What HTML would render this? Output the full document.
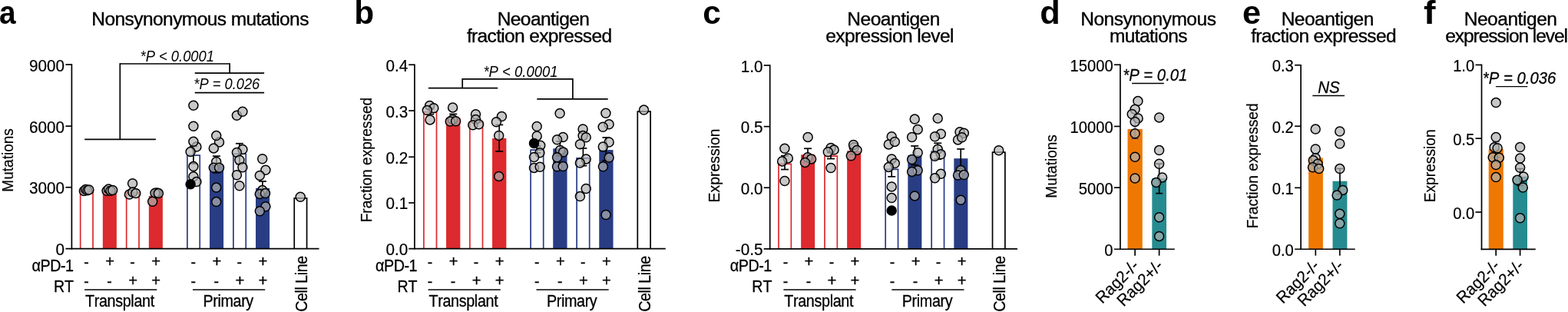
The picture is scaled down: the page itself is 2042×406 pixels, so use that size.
<!DOCTYPE html>
<html lang="en"><head><meta charset="utf-8"><title>Figure</title>
<style>
html,body{margin:0;padding:0;background:#fff;overflow:hidden}
svg{display:block}
text{font-kerning:none;font-family:"Liberation Sans",Arial,Helvetica,sans-serif;fill:#000}
</style></head>
<body>
<svg width="2042" height="406" viewBox="0 0 2042 406">
<rect width="2042" height="406" fill="#fff"/>
<text transform="translate(-0.94 31.30) scale(0.92 1)" font-size="42.2" text-anchor="start" font-weight="bold">a</text>
<text transform="translate(119.36 32.80) scale(1.02 1)" font-size="24.05" text-anchor="start" stroke="#000" stroke-width="0.35" letter-spacing="-0.567">Nonsynonymous mutations</text>
<text transform="translate(17.30 249.66) rotate(-90) scale(0.9198 1)" font-size="20.7" text-anchor="start" stroke="#000" stroke-width="0.2">Mutations</text>
<path d="M104.67 323.65V248.45H121.03V323.65" fill="#fff" stroke="#dc2a2e" stroke-width="1.7"/>
<rect x="133.82" y="247.90" width="18.05" height="75.75" fill="#dc2a2e"/>
<path d="M164.67 323.65V250.85H181.03V323.65" fill="#fff" stroke="#dc2a2e" stroke-width="1.7"/>
<rect x="193.82" y="255.00" width="18.05" height="68.65" fill="#dc2a2e"/>
<path d="M243.88 323.65V202.05H260.22V323.65" fill="#fff" stroke="#283d83" stroke-width="1.7"/>
<rect x="273.02" y="213.90" width="18.05" height="109.75" fill="#283d83"/>
<path d="M303.88 323.65V200.25H320.22V323.65" fill="#fff" stroke="#283d83" stroke-width="1.7"/>
<rect x="333.02" y="244.80" width="18.05" height="78.85" fill="#283d83"/>
<path d="M383.23 323.65V257.95H399.57V323.65" fill="#fff" stroke="#000" stroke-width="1.7"/>
<line x1="251.90" y1="190.35" x2="251.90" y2="212.95" stroke="#000" stroke-width="1.7" stroke-linecap="butt"/>
<line x1="246.90" y1="190.35" x2="256.90" y2="190.35" stroke="#000" stroke-width="1.7" stroke-linecap="butt"/>
<line x1="246.90" y1="212.95" x2="256.90" y2="212.95" stroke="#000" stroke-width="1.7" stroke-linecap="butt"/>
<line x1="281.90" y1="203.15" x2="281.90" y2="224.75" stroke="#000" stroke-width="1.7" stroke-linecap="butt"/>
<line x1="276.90" y1="203.15" x2="286.90" y2="203.15" stroke="#000" stroke-width="1.7" stroke-linecap="butt"/>
<line x1="276.90" y1="224.75" x2="286.90" y2="224.75" stroke="#000" stroke-width="1.7" stroke-linecap="butt"/>
<line x1="311.90" y1="186.75" x2="311.90" y2="213.35" stroke="#000" stroke-width="1.7" stroke-linecap="butt"/>
<line x1="306.90" y1="186.75" x2="316.90" y2="186.75" stroke="#000" stroke-width="1.7" stroke-linecap="butt"/>
<line x1="306.90" y1="213.35" x2="316.90" y2="213.35" stroke="#000" stroke-width="1.7" stroke-linecap="butt"/>
<line x1="341.90" y1="235.95" x2="341.90" y2="254.65" stroke="#000" stroke-width="1.7" stroke-linecap="butt"/>
<line x1="336.90" y1="235.95" x2="346.90" y2="235.95" stroke="#000" stroke-width="1.7" stroke-linecap="butt"/>
<line x1="336.90" y1="254.65" x2="346.90" y2="254.65" stroke="#000" stroke-width="1.7" stroke-linecap="butt"/>
<circle cx="109.40" cy="248.40" r="6.0" fill="rgb(176,176,176)" fill-opacity="0.7" stroke="#000" stroke-width="1.5"/>
<circle cx="111.60" cy="246.60" r="6.0" fill="rgb(176,176,176)" fill-opacity="0.7" stroke="#000" stroke-width="1.5"/>
<circle cx="113.90" cy="247.70" r="6.0" fill="rgb(176,176,176)" fill-opacity="0.7" stroke="#000" stroke-width="1.5"/>
<circle cx="115.90" cy="247.00" r="6.0" fill="rgb(176,176,176)" fill-opacity="0.7" stroke="#000" stroke-width="1.5"/>
<circle cx="139.10" cy="248.20" r="6.0" fill="rgb(176,176,176)" fill-opacity="0.7" stroke="#000" stroke-width="1.5"/>
<circle cx="141.50" cy="246.00" r="6.0" fill="rgb(176,176,176)" fill-opacity="0.7" stroke="#000" stroke-width="1.5"/>
<circle cx="144.00" cy="248.20" r="6.0" fill="rgb(176,176,176)" fill-opacity="0.7" stroke="#000" stroke-width="1.5"/>
<circle cx="146.70" cy="247.60" r="6.0" fill="rgb(176,176,176)" fill-opacity="0.7" stroke="#000" stroke-width="1.5"/>
<circle cx="172.60" cy="238.80" r="6.0" fill="rgb(176,176,176)" fill-opacity="0.7" stroke="#000" stroke-width="1.5"/>
<circle cx="168.40" cy="253.10" r="6.0" fill="rgb(176,176,176)" fill-opacity="0.7" stroke="#000" stroke-width="1.5"/>
<circle cx="172.80" cy="250.10" r="6.0" fill="rgb(176,176,176)" fill-opacity="0.7" stroke="#000" stroke-width="1.5"/>
<circle cx="176.80" cy="251.60" r="6.0" fill="rgb(176,176,176)" fill-opacity="0.7" stroke="#000" stroke-width="1.5"/>
<circle cx="204.30" cy="251.00" r="6.0" fill="rgb(176,176,176)" fill-opacity="0.7" stroke="#000" stroke-width="1.5"/>
<circle cx="202.00" cy="251.30" r="6.0" fill="rgb(176,176,176)" fill-opacity="0.7" stroke="#000" stroke-width="1.5"/>
<circle cx="206.40" cy="251.60" r="6.0" fill="rgb(176,176,176)" fill-opacity="0.7" stroke="#000" stroke-width="1.5"/>
<circle cx="198.70" cy="262.20" r="6.0" fill="rgb(176,176,176)" fill-opacity="0.7" stroke="#000" stroke-width="1.5"/>
<circle cx="251.90" cy="137.20" r="6.0" fill="rgb(176,176,176)" fill-opacity="0.7" stroke="#000" stroke-width="1.5"/>
<circle cx="251.90" cy="164.30" r="6.0" fill="rgb(176,176,176)" fill-opacity="0.7" stroke="#000" stroke-width="1.5"/>
<circle cx="255.90" cy="191.00" r="6.0" fill="rgb(176,176,176)" fill-opacity="0.7" stroke="#000" stroke-width="1.5"/>
<circle cx="251.90" cy="184.30" r="6.0" fill="rgb(176,176,176)" fill-opacity="0.7" stroke="#000" stroke-width="1.5"/>
<circle cx="248.10" cy="197.60" r="6.0" fill="rgb(176,176,176)" fill-opacity="0.7" stroke="#000" stroke-width="1.5"/>
<circle cx="251.90" cy="216.60" r="6.0" fill="rgb(176,176,176)" fill-opacity="0.7" stroke="#000" stroke-width="1.5"/>
<circle cx="251.90" cy="229.80" r="6.0" fill="rgb(176,176,176)" fill-opacity="0.7" stroke="#000" stroke-width="1.5"/>
<circle cx="255.90" cy="236.60" r="6.0" fill="rgb(176,176,176)" fill-opacity="0.7" stroke="#000" stroke-width="1.5"/>
<circle cx="248.10" cy="239.80" r="6.0" fill="#000" stroke="#000" stroke-width="1.5"/>
<circle cx="285.50" cy="185.00" r="6.0" fill="rgb(176,176,176)" fill-opacity="0.7" stroke="#000" stroke-width="1.5"/>
<circle cx="281.70" cy="176.60" r="6.0" fill="rgb(176,176,176)" fill-opacity="0.7" stroke="#000" stroke-width="1.5"/>
<circle cx="278.30" cy="192.90" r="6.0" fill="rgb(176,176,176)" fill-opacity="0.7" stroke="#000" stroke-width="1.5"/>
<circle cx="281.70" cy="210.50" r="6.0" fill="rgb(176,176,176)" fill-opacity="0.7" stroke="#000" stroke-width="1.5"/>
<circle cx="278.30" cy="218.30" r="6.0" fill="rgb(176,176,176)" fill-opacity="0.7" stroke="#000" stroke-width="1.5"/>
<circle cx="285.50" cy="218.30" r="6.0" fill="rgb(176,176,176)" fill-opacity="0.7" stroke="#000" stroke-width="1.5"/>
<circle cx="281.70" cy="244.10" r="6.0" fill="rgb(176,176,176)" fill-opacity="0.7" stroke="#000" stroke-width="1.5"/>
<circle cx="281.70" cy="262.60" r="6.0" fill="rgb(176,176,176)" fill-opacity="0.7" stroke="#000" stroke-width="1.5"/>
<circle cx="308.40" cy="150.20" r="6.0" fill="rgb(176,176,176)" fill-opacity="0.7" stroke="#000" stroke-width="1.5"/>
<circle cx="315.90" cy="145.30" r="6.0" fill="rgb(176,176,176)" fill-opacity="0.7" stroke="#000" stroke-width="1.5"/>
<circle cx="315.90" cy="194.50" r="6.0" fill="rgb(176,176,176)" fill-opacity="0.7" stroke="#000" stroke-width="1.5"/>
<circle cx="308.40" cy="198.40" r="6.0" fill="rgb(176,176,176)" fill-opacity="0.7" stroke="#000" stroke-width="1.5"/>
<circle cx="311.90" cy="208.30" r="6.0" fill="rgb(176,176,176)" fill-opacity="0.7" stroke="#000" stroke-width="1.5"/>
<circle cx="315.90" cy="217.80" r="6.0" fill="rgb(176,176,176)" fill-opacity="0.7" stroke="#000" stroke-width="1.5"/>
<circle cx="308.40" cy="227.80" r="6.0" fill="rgb(176,176,176)" fill-opacity="0.7" stroke="#000" stroke-width="1.5"/>
<circle cx="311.90" cy="241.80" r="6.0" fill="rgb(176,176,176)" fill-opacity="0.7" stroke="#000" stroke-width="1.5"/>
<circle cx="341.70" cy="206.70" r="6.0" fill="rgb(176,176,176)" fill-opacity="0.7" stroke="#000" stroke-width="1.5"/>
<circle cx="345.90" cy="221.30" r="6.0" fill="rgb(176,176,176)" fill-opacity="0.7" stroke="#000" stroke-width="1.5"/>
<circle cx="338.30" cy="228.40" r="6.0" fill="rgb(176,176,176)" fill-opacity="0.7" stroke="#000" stroke-width="1.5"/>
<circle cx="341.70" cy="247.60" r="6.0" fill="rgb(176,176,176)" fill-opacity="0.7" stroke="#000" stroke-width="1.5"/>
<circle cx="338.30" cy="252.40" r="6.0" fill="rgb(176,176,176)" fill-opacity="0.7" stroke="#000" stroke-width="1.5"/>
<circle cx="345.50" cy="251.60" r="6.0" fill="rgb(176,176,176)" fill-opacity="0.7" stroke="#000" stroke-width="1.5"/>
<circle cx="345.90" cy="268.80" r="6.0" fill="rgb(176,176,176)" fill-opacity="0.7" stroke="#000" stroke-width="1.5"/>
<circle cx="338.30" cy="274.80" r="6.0" fill="rgb(176,176,176)" fill-opacity="0.7" stroke="#000" stroke-width="1.5"/>
<circle cx="391.20" cy="256.20" r="6.0" fill="rgb(176,176,176)" fill-opacity="0.7" stroke="#000" stroke-width="1.5"/>
<line x1="93.40" y1="83.20" x2="93.40" y2="324.50" stroke="#000" stroke-width="1.7" stroke-linecap="butt"/>
<line x1="85.40" y1="84.05" x2="93.40" y2="84.05" stroke="#000" stroke-width="1.7" stroke-linecap="butt"/>
<text transform="translate(84.10 92.55) scale(1 1.09)" font-size="20.7" text-anchor="end" stroke="#000" stroke-width="0.2">9000</text>
<line x1="85.40" y1="164.15" x2="93.40" y2="164.15" stroke="#000" stroke-width="1.7" stroke-linecap="butt"/>
<text transform="translate(84.10 172.65) scale(1 1.09)" font-size="20.7" text-anchor="end" stroke="#000" stroke-width="0.2">6000</text>
<line x1="85.40" y1="243.75" x2="93.40" y2="243.75" stroke="#000" stroke-width="1.7" stroke-linecap="butt"/>
<text transform="translate(84.10 252.25) scale(1 1.09)" font-size="20.7" text-anchor="end" stroke="#000" stroke-width="0.2">3000</text>
<text transform="translate(84.10 332.15) scale(1 1.09)" font-size="20.7" text-anchor="end" stroke="#000" stroke-width="0.2">0</text>
<line x1="85.40" y1="323.65" x2="415.50" y2="323.65" stroke="#000" stroke-width="1.7" stroke-linecap="butt"/>
<text transform="translate(41.52 353.40) scale(0.915 1)" font-size="21.6" text-anchor="start" stroke="#000" stroke-width="0.3" letter-spacing="-0.535">αPD-1</text>
<text transform="translate(69.94 379.90) scale(0.9086 1)" font-size="21.6" text-anchor="start" stroke="#000" stroke-width="0.3">RT</text>
<text transform="translate(112.60 347.80)" font-size="19.5" text-anchor="middle" stroke="#000" stroke-width="0.3">-</text>
<text transform="translate(112.60 373.40)" font-size="19.5" text-anchor="middle" stroke="#000" stroke-width="0.3">-</text>
<text transform="translate(143.10 346.70)" font-size="20.2" text-anchor="middle" stroke="#000" stroke-width="0.3">+</text>
<text transform="translate(142.60 373.40)" font-size="19.5" text-anchor="middle" stroke="#000" stroke-width="0.3">-</text>
<text transform="translate(172.60 347.80)" font-size="19.5" text-anchor="middle" stroke="#000" stroke-width="0.3">-</text>
<text transform="translate(173.10 372.30)" font-size="20.2" text-anchor="middle" stroke="#000" stroke-width="0.3">+</text>
<text transform="translate(203.10 346.70)" font-size="20.2" text-anchor="middle" stroke="#000" stroke-width="0.3">+</text>
<text transform="translate(203.10 372.30)" font-size="20.2" text-anchor="middle" stroke="#000" stroke-width="0.3">+</text>
<text transform="translate(251.80 347.80)" font-size="19.5" text-anchor="middle" stroke="#000" stroke-width="0.3">-</text>
<text transform="translate(251.80 373.40)" font-size="19.5" text-anchor="middle" stroke="#000" stroke-width="0.3">-</text>
<text transform="translate(282.30 346.70)" font-size="20.2" text-anchor="middle" stroke="#000" stroke-width="0.3">+</text>
<text transform="translate(281.80 373.40)" font-size="19.5" text-anchor="middle" stroke="#000" stroke-width="0.3">-</text>
<text transform="translate(311.80 347.80)" font-size="19.5" text-anchor="middle" stroke="#000" stroke-width="0.3">-</text>
<text transform="translate(312.30 372.30)" font-size="20.2" text-anchor="middle" stroke="#000" stroke-width="0.3">+</text>
<text transform="translate(342.30 346.70)" font-size="20.2" text-anchor="middle" stroke="#000" stroke-width="0.3">+</text>
<text transform="translate(342.30 372.30)" font-size="20.2" text-anchor="middle" stroke="#000" stroke-width="0.3">+</text>
<line x1="110.10" y1="377.00" x2="204.30" y2="377.00" stroke="#000" stroke-width="1.6" stroke-linecap="butt"/>
<line x1="251.00" y1="377.00" x2="345.20" y2="377.00" stroke="#000" stroke-width="1.6" stroke-linecap="butt"/>
<text transform="translate(111.01 398.60) scale(0.915 1)" font-size="21.6" text-anchor="start" stroke="#000" stroke-width="0.3" letter-spacing="-0.387">Transplant</text>
<text transform="translate(264.53 398.60) scale(0.915 1)" font-size="21.6" text-anchor="start" stroke="#000" stroke-width="0.3" letter-spacing="-0.421">Primary</text>
<text transform="translate(399.70 405.85) rotate(-90) scale(0.915 1)" font-size="21.6" text-anchor="start" stroke="#000" stroke-width="0.3" letter-spacing="-0.508">Cell Line</text>
<line x1="110.20" y1="181.30" x2="202.90" y2="181.30" stroke="#000" stroke-width="1.7" stroke-linecap="butt"/>
<line x1="156.30" y1="82.15" x2="156.30" y2="181.30" stroke="#000" stroke-width="1.7" stroke-linecap="butt"/>
<line x1="156.30" y1="83.00" x2="299.10" y2="83.00" stroke="#000" stroke-width="1.7" stroke-linecap="butt"/>
<line x1="299.10" y1="82.15" x2="299.10" y2="95.20" stroke="#000" stroke-width="1.7" stroke-linecap="butt"/>
<line x1="253.70" y1="95.20" x2="344.10" y2="95.20" stroke="#000" stroke-width="1.7" stroke-linecap="butt"/>
<line x1="253.70" y1="120.60" x2="344.10" y2="120.60" stroke="#000" stroke-width="1.7" stroke-linecap="butt"/>
<text transform="translate(182.52 79.90) scale(0.947 1)" font-size="19.4" text-anchor="start" font-style="italic">*P &lt; 0.0001</text>
<text transform="translate(252.33 116.40) scale(0.9432 1)" font-size="19.4" text-anchor="start" font-style="italic">*P = 0.026</text>
<text transform="translate(461.20 31.30) scale(1.006 1)" font-size="42.2" text-anchor="start" font-weight="bold">b</text>
<text transform="translate(647.66 32.50) scale(1.02 1)" font-size="24.05" text-anchor="start" stroke="#000" stroke-width="0.35" letter-spacing="-0.558">Neoantigen</text>
<text transform="translate(607.93 55.20) scale(1.02 1)" font-size="24.05" text-anchor="start" stroke="#000" stroke-width="0.35" letter-spacing="-0.649">fraction expressed</text>
<text transform="translate(483.90 289.37) rotate(-90) scale(0.9243 1)" font-size="20.7" text-anchor="start" stroke="#000" stroke-width="0.2">Fraction expressed</text>
<path d="M551.90 323.65V145.75H568.50V323.65" fill="#fff" stroke="#dc2a2e" stroke-width="1.7"/>
<rect x="581.05" y="153.50" width="18.30" height="170.15" fill="#dc2a2e"/>
<path d="M611.90 323.65V158.85H628.50V323.65" fill="#fff" stroke="#dc2a2e" stroke-width="1.7"/>
<rect x="641.05" y="180.00" width="18.30" height="143.65" fill="#dc2a2e"/>
<path d="M691.10 323.65V195.15H707.70V323.65" fill="#fff" stroke="#283d83" stroke-width="1.7"/>
<rect x="720.25" y="193.30" width="18.30" height="130.35" fill="#283d83"/>
<path d="M751.10 323.65V205.95H767.70V323.65" fill="#fff" stroke="#283d83" stroke-width="1.7"/>
<rect x="780.25" y="195.10" width="18.30" height="128.55" fill="#283d83"/>
<path d="M830.30 323.65V145.15H847.10V323.65" fill="#fff" stroke="#000" stroke-width="1.7"/>
<line x1="560.20" y1="141.35" x2="560.20" y2="148.65" stroke="#000" stroke-width="1.7" stroke-linecap="butt"/>
<line x1="555.20" y1="141.35" x2="565.20" y2="141.35" stroke="#000" stroke-width="1.7" stroke-linecap="butt"/>
<line x1="555.20" y1="148.65" x2="565.20" y2="148.65" stroke="#000" stroke-width="1.7" stroke-linecap="butt"/>
<line x1="590.20" y1="148.45" x2="590.20" y2="159.35" stroke="#000" stroke-width="1.7" stroke-linecap="butt"/>
<line x1="585.20" y1="148.45" x2="595.20" y2="148.45" stroke="#000" stroke-width="1.7" stroke-linecap="butt"/>
<line x1="585.20" y1="159.35" x2="595.20" y2="159.35" stroke="#000" stroke-width="1.7" stroke-linecap="butt"/>
<line x1="650.20" y1="162.45" x2="650.20" y2="196.95" stroke="#000" stroke-width="1.7" stroke-linecap="butt"/>
<line x1="645.20" y1="162.45" x2="655.20" y2="162.45" stroke="#000" stroke-width="1.7" stroke-linecap="butt"/>
<line x1="645.20" y1="196.95" x2="655.20" y2="196.95" stroke="#000" stroke-width="1.7" stroke-linecap="butt"/>
<line x1="699.40" y1="190.05" x2="699.40" y2="198.95" stroke="#000" stroke-width="1.7" stroke-linecap="butt"/>
<line x1="694.40" y1="190.05" x2="704.40" y2="190.05" stroke="#000" stroke-width="1.7" stroke-linecap="butt"/>
<line x1="694.40" y1="198.95" x2="704.40" y2="198.95" stroke="#000" stroke-width="1.7" stroke-linecap="butt"/>
<line x1="729.40" y1="184.15" x2="729.40" y2="202.85" stroke="#000" stroke-width="1.7" stroke-linecap="butt"/>
<line x1="724.40" y1="184.15" x2="734.40" y2="184.15" stroke="#000" stroke-width="1.7" stroke-linecap="butt"/>
<line x1="724.40" y1="202.85" x2="734.40" y2="202.85" stroke="#000" stroke-width="1.7" stroke-linecap="butt"/>
<line x1="759.40" y1="192.95" x2="759.40" y2="215.65" stroke="#000" stroke-width="1.7" stroke-linecap="butt"/>
<line x1="754.40" y1="192.95" x2="764.40" y2="192.95" stroke="#000" stroke-width="1.7" stroke-linecap="butt"/>
<line x1="754.40" y1="215.65" x2="764.40" y2="215.65" stroke="#000" stroke-width="1.7" stroke-linecap="butt"/>
<line x1="789.40" y1="178.95" x2="789.40" y2="208.95" stroke="#000" stroke-width="1.7" stroke-linecap="butt"/>
<line x1="784.40" y1="178.95" x2="794.40" y2="178.95" stroke="#000" stroke-width="1.7" stroke-linecap="butt"/>
<line x1="784.40" y1="208.95" x2="794.40" y2="208.95" stroke="#000" stroke-width="1.7" stroke-linecap="butt"/>
<circle cx="559.60" cy="137.40" r="6.0" fill="rgb(176,176,176)" fill-opacity="0.7" stroke="#000" stroke-width="1.5"/>
<circle cx="564.80" cy="140.70" r="6.0" fill="rgb(176,176,176)" fill-opacity="0.7" stroke="#000" stroke-width="1.5"/>
<circle cx="556.30" cy="143.60" r="6.0" fill="rgb(176,176,176)" fill-opacity="0.7" stroke="#000" stroke-width="1.5"/>
<circle cx="560.00" cy="155.90" r="6.0" fill="rgb(176,176,176)" fill-opacity="0.7" stroke="#000" stroke-width="1.5"/>
<circle cx="589.60" cy="139.90" r="6.0" fill="rgb(176,176,176)" fill-opacity="0.7" stroke="#000" stroke-width="1.5"/>
<circle cx="589.60" cy="155.50" r="6.0" fill="rgb(176,176,176)" fill-opacity="0.7" stroke="#000" stroke-width="1.5"/>
<circle cx="586.20" cy="158.10" r="6.0" fill="rgb(176,176,176)" fill-opacity="0.7" stroke="#000" stroke-width="1.5"/>
<circle cx="593.60" cy="157.70" r="6.0" fill="rgb(176,176,176)" fill-opacity="0.7" stroke="#000" stroke-width="1.5"/>
<circle cx="619.50" cy="148.80" r="6.0" fill="rgb(176,176,176)" fill-opacity="0.7" stroke="#000" stroke-width="1.5"/>
<circle cx="619.50" cy="155.50" r="6.0" fill="rgb(176,176,176)" fill-opacity="0.7" stroke="#000" stroke-width="1.5"/>
<circle cx="615.80" cy="162.80" r="6.0" fill="rgb(176,176,176)" fill-opacity="0.7" stroke="#000" stroke-width="1.5"/>
<circle cx="623.60" cy="161.80" r="6.0" fill="rgb(176,176,176)" fill-opacity="0.7" stroke="#000" stroke-width="1.5"/>
<circle cx="653.40" cy="151.50" r="6.0" fill="rgb(176,176,176)" fill-opacity="0.7" stroke="#000" stroke-width="1.5"/>
<circle cx="646.40" cy="158.70" r="6.0" fill="rgb(176,176,176)" fill-opacity="0.7" stroke="#000" stroke-width="1.5"/>
<circle cx="649.70" cy="176.40" r="6.0" fill="rgb(176,176,176)" fill-opacity="0.7" stroke="#000" stroke-width="1.5"/>
<circle cx="649.70" cy="229.40" r="6.0" fill="rgb(176,176,176)" fill-opacity="0.7" stroke="#000" stroke-width="1.5"/>
<circle cx="699.20" cy="164.50" r="6.0" fill="rgb(176,176,176)" fill-opacity="0.7" stroke="#000" stroke-width="1.5"/>
<circle cx="699.20" cy="177.00" r="6.0" fill="rgb(176,176,176)" fill-opacity="0.7" stroke="#000" stroke-width="1.5"/>
<circle cx="703.70" cy="189.20" r="6.0" fill="rgb(176,176,176)" fill-opacity="0.7" stroke="#000" stroke-width="1.5"/>
<circle cx="695.50" cy="186.40" r="6.0" fill="#000" stroke="#000" stroke-width="1.5"/>
<circle cx="702.90" cy="198.80" r="6.0" fill="rgb(176,176,176)" fill-opacity="0.7" stroke="#000" stroke-width="1.5"/>
<circle cx="695.50" cy="204.50" r="6.0" fill="rgb(176,176,176)" fill-opacity="0.7" stroke="#000" stroke-width="1.5"/>
<circle cx="695.50" cy="218.40" r="6.0" fill="rgb(176,176,176)" fill-opacity="0.7" stroke="#000" stroke-width="1.5"/>
<circle cx="703.20" cy="217.20" r="6.0" fill="rgb(176,176,176)" fill-opacity="0.7" stroke="#000" stroke-width="1.5"/>
<circle cx="729.10" cy="147.60" r="6.0" fill="rgb(176,176,176)" fill-opacity="0.7" stroke="#000" stroke-width="1.5"/>
<circle cx="733.20" cy="178.50" r="6.0" fill="rgb(176,176,176)" fill-opacity="0.7" stroke="#000" stroke-width="1.5"/>
<circle cx="725.50" cy="181.80" r="6.0" fill="rgb(176,176,176)" fill-opacity="0.7" stroke="#000" stroke-width="1.5"/>
<circle cx="729.50" cy="195.50" r="6.0" fill="rgb(176,176,176)" fill-opacity="0.7" stroke="#000" stroke-width="1.5"/>
<circle cx="733.50" cy="198.00" r="6.0" fill="rgb(176,176,176)" fill-opacity="0.7" stroke="#000" stroke-width="1.5"/>
<circle cx="725.50" cy="204.80" r="6.0" fill="rgb(176,176,176)" fill-opacity="0.7" stroke="#000" stroke-width="1.5"/>
<circle cx="725.50" cy="216.80" r="6.0" fill="rgb(176,176,176)" fill-opacity="0.7" stroke="#000" stroke-width="1.5"/>
<circle cx="733.20" cy="216.60" r="6.0" fill="rgb(176,176,176)" fill-opacity="0.7" stroke="#000" stroke-width="1.5"/>
<circle cx="759.10" cy="168.00" r="6.0" fill="rgb(176,176,176)" fill-opacity="0.7" stroke="#000" stroke-width="1.5"/>
<circle cx="759.10" cy="176.60" r="6.0" fill="rgb(176,176,176)" fill-opacity="0.7" stroke="#000" stroke-width="1.5"/>
<circle cx="763.20" cy="178.80" r="6.0" fill="rgb(176,176,176)" fill-opacity="0.7" stroke="#000" stroke-width="1.5"/>
<circle cx="755.40" cy="187.80" r="6.0" fill="rgb(176,176,176)" fill-opacity="0.7" stroke="#000" stroke-width="1.5"/>
<circle cx="763.20" cy="206.90" r="6.0" fill="rgb(176,176,176)" fill-opacity="0.7" stroke="#000" stroke-width="1.5"/>
<circle cx="755.40" cy="212.10" r="6.0" fill="rgb(176,176,176)" fill-opacity="0.7" stroke="#000" stroke-width="1.5"/>
<circle cx="763.20" cy="245.50" r="6.0" fill="rgb(176,176,176)" fill-opacity="0.7" stroke="#000" stroke-width="1.5"/>
<circle cx="755.40" cy="255.60" r="6.0" fill="rgb(176,176,176)" fill-opacity="0.7" stroke="#000" stroke-width="1.5"/>
<circle cx="788.90" cy="147.30" r="6.0" fill="rgb(176,176,176)" fill-opacity="0.7" stroke="#000" stroke-width="1.5"/>
<circle cx="793.10" cy="161.80" r="6.0" fill="rgb(176,176,176)" fill-opacity="0.7" stroke="#000" stroke-width="1.5"/>
<circle cx="785.20" cy="165.20" r="6.0" fill="rgb(176,176,176)" fill-opacity="0.7" stroke="#000" stroke-width="1.5"/>
<circle cx="793.10" cy="185.00" r="6.0" fill="rgb(176,176,176)" fill-opacity="0.7" stroke="#000" stroke-width="1.5"/>
<circle cx="785.30" cy="191.00" r="6.0" fill="rgb(176,176,176)" fill-opacity="0.7" stroke="#000" stroke-width="1.5"/>
<circle cx="793.10" cy="205.10" r="6.0" fill="rgb(176,176,176)" fill-opacity="0.7" stroke="#000" stroke-width="1.5"/>
<circle cx="785.40" cy="216.70" r="6.0" fill="rgb(176,176,176)" fill-opacity="0.7" stroke="#000" stroke-width="1.5"/>
<circle cx="789.10" cy="279.50" r="6.0" fill="rgb(176,176,176)" fill-opacity="0.7" stroke="#000" stroke-width="1.5"/>
<circle cx="838.50" cy="143.10" r="6.0" fill="rgb(176,176,176)" fill-opacity="0.7" stroke="#000" stroke-width="1.5"/>
<line x1="539.90" y1="83.40" x2="539.90" y2="324.50" stroke="#000" stroke-width="1.7" stroke-linecap="butt"/>
<line x1="532.20" y1="84.25" x2="539.90" y2="84.25" stroke="#000" stroke-width="1.7" stroke-linecap="butt"/>
<text transform="translate(531.30 92.75) scale(1 1.09)" font-size="20.7" text-anchor="end" stroke="#000" stroke-width="0.2">0.4</text>
<line x1="532.20" y1="144.05" x2="539.90" y2="144.05" stroke="#000" stroke-width="1.7" stroke-linecap="butt"/>
<text transform="translate(531.30 152.55) scale(1 1.09)" font-size="20.7" text-anchor="end" stroke="#000" stroke-width="0.2">0.3</text>
<line x1="532.20" y1="204.25" x2="539.90" y2="204.25" stroke="#000" stroke-width="1.7" stroke-linecap="butt"/>
<text transform="translate(531.30 212.75) scale(1 1.09)" font-size="20.7" text-anchor="end" stroke="#000" stroke-width="0.2">0.2</text>
<line x1="532.20" y1="263.95" x2="539.90" y2="263.95" stroke="#000" stroke-width="1.7" stroke-linecap="butt"/>
<text transform="translate(531.30 272.45) scale(1 1.09)" font-size="20.7" text-anchor="end" stroke="#000" stroke-width="0.2">0.1</text>
<text transform="translate(531.30 332.15) scale(1 1.09)" font-size="20.7" text-anchor="end" stroke="#000" stroke-width="0.2">0.0</text>
<line x1="532.20" y1="323.65" x2="866.80" y2="323.65" stroke="#000" stroke-width="1.7" stroke-linecap="butt"/>
<text transform="translate(489.02 353.40) scale(0.915 1)" font-size="21.6" text-anchor="start" stroke="#000" stroke-width="0.3" letter-spacing="-0.535">αPD-1</text>
<text transform="translate(517.44 379.90) scale(0.9086 1)" font-size="21.6" text-anchor="start" stroke="#000" stroke-width="0.3">RT</text>
<text transform="translate(560.10 347.80)" font-size="19.5" text-anchor="middle" stroke="#000" stroke-width="0.3">-</text>
<text transform="translate(560.10 373.40)" font-size="19.5" text-anchor="middle" stroke="#000" stroke-width="0.3">-</text>
<text transform="translate(590.60 346.70)" font-size="20.2" text-anchor="middle" stroke="#000" stroke-width="0.3">+</text>
<text transform="translate(590.10 373.40)" font-size="19.5" text-anchor="middle" stroke="#000" stroke-width="0.3">-</text>
<text transform="translate(620.10 347.80)" font-size="19.5" text-anchor="middle" stroke="#000" stroke-width="0.3">-</text>
<text transform="translate(620.60 372.30)" font-size="20.2" text-anchor="middle" stroke="#000" stroke-width="0.3">+</text>
<text transform="translate(650.60 346.70)" font-size="20.2" text-anchor="middle" stroke="#000" stroke-width="0.3">+</text>
<text transform="translate(650.60 372.30)" font-size="20.2" text-anchor="middle" stroke="#000" stroke-width="0.3">+</text>
<text transform="translate(699.30 347.80)" font-size="19.5" text-anchor="middle" stroke="#000" stroke-width="0.3">-</text>
<text transform="translate(699.30 373.40)" font-size="19.5" text-anchor="middle" stroke="#000" stroke-width="0.3">-</text>
<text transform="translate(729.80 346.70)" font-size="20.2" text-anchor="middle" stroke="#000" stroke-width="0.3">+</text>
<text transform="translate(729.30 373.40)" font-size="19.5" text-anchor="middle" stroke="#000" stroke-width="0.3">-</text>
<text transform="translate(759.30 347.80)" font-size="19.5" text-anchor="middle" stroke="#000" stroke-width="0.3">-</text>
<text transform="translate(759.80 372.30)" font-size="20.2" text-anchor="middle" stroke="#000" stroke-width="0.3">+</text>
<text transform="translate(789.80 346.70)" font-size="20.2" text-anchor="middle" stroke="#000" stroke-width="0.3">+</text>
<text transform="translate(789.80 372.30)" font-size="20.2" text-anchor="middle" stroke="#000" stroke-width="0.3">+</text>
<line x1="557.60" y1="377.00" x2="651.80" y2="377.00" stroke="#000" stroke-width="1.6" stroke-linecap="butt"/>
<line x1="698.50" y1="377.00" x2="792.70" y2="377.00" stroke="#000" stroke-width="1.6" stroke-linecap="butt"/>
<text transform="translate(558.51 398.60) scale(0.915 1)" font-size="21.6" text-anchor="start" stroke="#000" stroke-width="0.3" letter-spacing="-0.387">Transplant</text>
<text transform="translate(712.03 398.60) scale(0.915 1)" font-size="21.6" text-anchor="start" stroke="#000" stroke-width="0.3" letter-spacing="-0.421">Primary</text>
<text transform="translate(847.20 405.85) rotate(-90) scale(0.915 1)" font-size="21.6" text-anchor="start" stroke="#000" stroke-width="0.3" letter-spacing="-0.508">Cell Line</text>
<line x1="557.90" y1="114.70" x2="648.30" y2="114.70" stroke="#000" stroke-width="1.7" stroke-linecap="butt"/>
<line x1="602.20" y1="102.05" x2="602.20" y2="114.70" stroke="#000" stroke-width="1.7" stroke-linecap="butt"/>
<line x1="602.20" y1="102.90" x2="745.90" y2="102.90" stroke="#000" stroke-width="1.7" stroke-linecap="butt"/>
<line x1="745.90" y1="102.05" x2="745.90" y2="128.95" stroke="#000" stroke-width="1.7" stroke-linecap="butt"/>
<line x1="699.30" y1="128.95" x2="791.70" y2="128.95" stroke="#000" stroke-width="1.7" stroke-linecap="butt"/>
<text transform="translate(629.42 100.00) scale(0.954 1)" font-size="19.4" text-anchor="start" font-style="italic">*P &lt; 0.0001</text>
<text transform="translate(915.34 31.30) scale(1.006 1)" font-size="42.2" text-anchor="start" font-weight="bold">c</text>
<text transform="translate(1103.36 32.50) scale(1.02 1)" font-size="24.05" text-anchor="start" stroke="#000" stroke-width="0.35" letter-spacing="-0.482">Neoantigen</text>
<text transform="translate(1075.23 55.20) scale(1.02 1)" font-size="24.05" text-anchor="start" stroke="#000" stroke-width="0.35" letter-spacing="-0.566">expression level</text>
<text transform="translate(937.20 263.39) rotate(-90) scale(0.937 1)" font-size="20.7" text-anchor="start" stroke="#000" stroke-width="0.2">Expression</text>
<path d="M1013.98 323.95V213.35H1030.33V323.95" fill="#fff" stroke="#dc2a2e" stroke-width="1.7"/>
<rect x="1043.12" y="201.30" width="18.05" height="122.65" fill="#dc2a2e"/>
<path d="M1073.97 323.95V203.05H1090.33V323.95" fill="#fff" stroke="#dc2a2e" stroke-width="1.7"/>
<rect x="1103.12" y="196.30" width="18.05" height="127.65" fill="#dc2a2e"/>
<path d="M1153.17 323.95V220.45H1169.53V323.95" fill="#fff" stroke="#283d83" stroke-width="1.7"/>
<rect x="1182.33" y="202.00" width="18.05" height="121.95" fill="#283d83"/>
<path d="M1213.17 323.95V197.15H1229.53V323.95" fill="#fff" stroke="#283d83" stroke-width="1.7"/>
<rect x="1242.33" y="206.20" width="18.05" height="117.75" fill="#283d83"/>
<path d="M1292.52 323.95V198.15H1308.88V323.95" fill="#fff" stroke="#000" stroke-width="1.7"/>
<line x1="1022.00" y1="202.65" x2="1022.00" y2="220.55" stroke="#000" stroke-width="1.7" stroke-linecap="butt"/>
<line x1="1017.00" y1="202.65" x2="1027.00" y2="202.65" stroke="#000" stroke-width="1.7" stroke-linecap="butt"/>
<line x1="1017.00" y1="220.55" x2="1027.00" y2="220.55" stroke="#000" stroke-width="1.7" stroke-linecap="butt"/>
<line x1="1052.00" y1="193.25" x2="1052.00" y2="210.05" stroke="#000" stroke-width="1.7" stroke-linecap="butt"/>
<line x1="1047.00" y1="193.25" x2="1057.00" y2="193.25" stroke="#000" stroke-width="1.7" stroke-linecap="butt"/>
<line x1="1047.00" y1="210.05" x2="1057.00" y2="210.05" stroke="#000" stroke-width="1.7" stroke-linecap="butt"/>
<line x1="1082.00" y1="198.55" x2="1082.00" y2="206.55" stroke="#000" stroke-width="1.7" stroke-linecap="butt"/>
<line x1="1077.00" y1="198.55" x2="1087.00" y2="198.55" stroke="#000" stroke-width="1.7" stroke-linecap="butt"/>
<line x1="1077.00" y1="206.55" x2="1087.00" y2="206.55" stroke="#000" stroke-width="1.7" stroke-linecap="butt"/>
<line x1="1112.00" y1="192.65" x2="1112.00" y2="200.65" stroke="#000" stroke-width="1.7" stroke-linecap="butt"/>
<line x1="1107.00" y1="192.65" x2="1117.00" y2="192.65" stroke="#000" stroke-width="1.7" stroke-linecap="butt"/>
<line x1="1107.00" y1="200.65" x2="1117.00" y2="200.65" stroke="#000" stroke-width="1.7" stroke-linecap="butt"/>
<line x1="1161.20" y1="210.05" x2="1161.20" y2="229.85" stroke="#000" stroke-width="1.7" stroke-linecap="butt"/>
<line x1="1156.20" y1="210.05" x2="1166.20" y2="210.05" stroke="#000" stroke-width="1.7" stroke-linecap="butt"/>
<line x1="1156.20" y1="229.85" x2="1166.20" y2="229.85" stroke="#000" stroke-width="1.7" stroke-linecap="butt"/>
<line x1="1191.20" y1="189.95" x2="1191.20" y2="214.75" stroke="#000" stroke-width="1.7" stroke-linecap="butt"/>
<line x1="1186.20" y1="189.95" x2="1196.20" y2="189.95" stroke="#000" stroke-width="1.7" stroke-linecap="butt"/>
<line x1="1186.20" y1="214.75" x2="1196.20" y2="214.75" stroke="#000" stroke-width="1.7" stroke-linecap="butt"/>
<line x1="1221.20" y1="186.25" x2="1221.20" y2="207.05" stroke="#000" stroke-width="1.7" stroke-linecap="butt"/>
<line x1="1216.20" y1="186.25" x2="1226.20" y2="186.25" stroke="#000" stroke-width="1.7" stroke-linecap="butt"/>
<line x1="1216.20" y1="207.05" x2="1226.20" y2="207.05" stroke="#000" stroke-width="1.7" stroke-linecap="butt"/>
<line x1="1251.20" y1="193.95" x2="1251.20" y2="219.15" stroke="#000" stroke-width="1.7" stroke-linecap="butt"/>
<line x1="1246.20" y1="193.95" x2="1256.20" y2="193.95" stroke="#000" stroke-width="1.7" stroke-linecap="butt"/>
<line x1="1246.20" y1="219.15" x2="1256.20" y2="219.15" stroke="#000" stroke-width="1.7" stroke-linecap="butt"/>
<circle cx="1021.90" cy="193.20" r="6.0" fill="rgb(176,176,176)" fill-opacity="0.7" stroke="#000" stroke-width="1.5"/>
<circle cx="1026.30" cy="205.90" r="6.0" fill="rgb(176,176,176)" fill-opacity="0.7" stroke="#000" stroke-width="1.5"/>
<circle cx="1018.60" cy="209.90" r="6.0" fill="rgb(176,176,176)" fill-opacity="0.7" stroke="#000" stroke-width="1.5"/>
<circle cx="1021.90" cy="235.50" r="6.0" fill="rgb(176,176,176)" fill-opacity="0.7" stroke="#000" stroke-width="1.5"/>
<circle cx="1052.10" cy="178.40" r="6.0" fill="rgb(176,176,176)" fill-opacity="0.7" stroke="#000" stroke-width="1.5"/>
<circle cx="1051.80" cy="204.70" r="6.0" fill="rgb(176,176,176)" fill-opacity="0.7" stroke="#000" stroke-width="1.5"/>
<circle cx="1056.60" cy="206.90" r="6.0" fill="rgb(176,176,176)" fill-opacity="0.7" stroke="#000" stroke-width="1.5"/>
<circle cx="1048.40" cy="211.40" r="6.0" fill="rgb(176,176,176)" fill-opacity="0.7" stroke="#000" stroke-width="1.5"/>
<circle cx="1082.00" cy="192.50" r="6.0" fill="rgb(176,176,176)" fill-opacity="0.7" stroke="#000" stroke-width="1.5"/>
<circle cx="1086.10" cy="195.10" r="6.0" fill="rgb(176,176,176)" fill-opacity="0.7" stroke="#000" stroke-width="1.5"/>
<circle cx="1078.30" cy="197.80" r="6.0" fill="rgb(176,176,176)" fill-opacity="0.7" stroke="#000" stroke-width="1.5"/>
<circle cx="1082.00" cy="218.50" r="6.0" fill="rgb(176,176,176)" fill-opacity="0.7" stroke="#000" stroke-width="1.5"/>
<circle cx="1112.30" cy="191.80" r="6.0" fill="rgb(176,176,176)" fill-opacity="0.7" stroke="#000" stroke-width="1.5"/>
<circle cx="1111.50" cy="188.50" r="6.0" fill="rgb(176,176,176)" fill-opacity="0.7" stroke="#000" stroke-width="1.5"/>
<circle cx="1116.00" cy="195.40" r="6.0" fill="rgb(176,176,176)" fill-opacity="0.7" stroke="#000" stroke-width="1.5"/>
<circle cx="1108.30" cy="202.80" r="6.0" fill="rgb(176,176,176)" fill-opacity="0.7" stroke="#000" stroke-width="1.5"/>
<circle cx="1161.20" cy="177.70" r="6.0" fill="rgb(176,176,176)" fill-opacity="0.7" stroke="#000" stroke-width="1.5"/>
<circle cx="1157.30" cy="187.90" r="6.0" fill="rgb(176,176,176)" fill-opacity="0.7" stroke="#000" stroke-width="1.5"/>
<circle cx="1165.30" cy="184.40" r="6.0" fill="rgb(176,176,176)" fill-opacity="0.7" stroke="#000" stroke-width="1.5"/>
<circle cx="1161.20" cy="207.00" r="6.0" fill="rgb(176,176,176)" fill-opacity="0.7" stroke="#000" stroke-width="1.5"/>
<circle cx="1165.30" cy="212.60" r="6.0" fill="rgb(176,176,176)" fill-opacity="0.7" stroke="#000" stroke-width="1.5"/>
<circle cx="1157.30" cy="217.40" r="6.0" fill="rgb(176,176,176)" fill-opacity="0.7" stroke="#000" stroke-width="1.5"/>
<circle cx="1161.20" cy="242.90" r="6.0" fill="rgb(176,176,176)" fill-opacity="0.7" stroke="#000" stroke-width="1.5"/>
<circle cx="1161.20" cy="257.60" r="6.0" fill="rgb(176,176,176)" fill-opacity="0.7" stroke="#000" stroke-width="1.5"/>
<circle cx="1161.20" cy="274.10" r="6.0" fill="#000" stroke="#000" stroke-width="1.5"/>
<circle cx="1191.20" cy="155.10" r="6.0" fill="rgb(176,176,176)" fill-opacity="0.7" stroke="#000" stroke-width="1.5"/>
<circle cx="1195.20" cy="168.40" r="6.0" fill="rgb(176,176,176)" fill-opacity="0.7" stroke="#000" stroke-width="1.5"/>
<circle cx="1187.60" cy="178.50" r="6.0" fill="rgb(176,176,176)" fill-opacity="0.7" stroke="#000" stroke-width="1.5"/>
<circle cx="1195.20" cy="198.80" r="6.0" fill="rgb(176,176,176)" fill-opacity="0.7" stroke="#000" stroke-width="1.5"/>
<circle cx="1187.60" cy="207.60" r="6.0" fill="rgb(176,176,176)" fill-opacity="0.7" stroke="#000" stroke-width="1.5"/>
<circle cx="1195.20" cy="221.80" r="6.0" fill="rgb(176,176,176)" fill-opacity="0.7" stroke="#000" stroke-width="1.5"/>
<circle cx="1187.60" cy="223.40" r="6.0" fill="rgb(176,176,176)" fill-opacity="0.7" stroke="#000" stroke-width="1.5"/>
<circle cx="1191.20" cy="254.90" r="6.0" fill="rgb(176,176,176)" fill-opacity="0.7" stroke="#000" stroke-width="1.5"/>
<circle cx="1221.20" cy="154.10" r="6.0" fill="rgb(176,176,176)" fill-opacity="0.7" stroke="#000" stroke-width="1.5"/>
<circle cx="1225.30" cy="174.30" r="6.0" fill="rgb(176,176,176)" fill-opacity="0.7" stroke="#000" stroke-width="1.5"/>
<circle cx="1217.50" cy="177.70" r="6.0" fill="rgb(176,176,176)" fill-opacity="0.7" stroke="#000" stroke-width="1.5"/>
<circle cx="1221.20" cy="194.30" r="6.0" fill="rgb(176,176,176)" fill-opacity="0.7" stroke="#000" stroke-width="1.5"/>
<circle cx="1225.30" cy="200.70" r="6.0" fill="rgb(176,176,176)" fill-opacity="0.7" stroke="#000" stroke-width="1.5"/>
<circle cx="1217.50" cy="203.20" r="6.0" fill="rgb(176,176,176)" fill-opacity="0.7" stroke="#000" stroke-width="1.5"/>
<circle cx="1225.30" cy="226.30" r="6.0" fill="rgb(176,176,176)" fill-opacity="0.7" stroke="#000" stroke-width="1.5"/>
<circle cx="1217.50" cy="231.70" r="6.0" fill="rgb(176,176,176)" fill-opacity="0.7" stroke="#000" stroke-width="1.5"/>
<circle cx="1250.00" cy="171.70" r="6.0" fill="rgb(176,176,176)" fill-opacity="0.7" stroke="#000" stroke-width="1.5"/>
<circle cx="1255.30" cy="173.20" r="6.0" fill="rgb(176,176,176)" fill-opacity="0.7" stroke="#000" stroke-width="1.5"/>
<circle cx="1247.50" cy="181.90" r="6.0" fill="rgb(176,176,176)" fill-opacity="0.7" stroke="#000" stroke-width="1.5"/>
<circle cx="1252.70" cy="178.80" r="6.0" fill="rgb(176,176,176)" fill-opacity="0.7" stroke="#000" stroke-width="1.5"/>
<circle cx="1251.20" cy="221.40" r="6.0" fill="rgb(176,176,176)" fill-opacity="0.7" stroke="#000" stroke-width="1.5"/>
<circle cx="1247.50" cy="228.00" r="6.0" fill="rgb(176,176,176)" fill-opacity="0.7" stroke="#000" stroke-width="1.5"/>
<circle cx="1255.30" cy="227.60" r="6.0" fill="rgb(176,176,176)" fill-opacity="0.7" stroke="#000" stroke-width="1.5"/>
<circle cx="1251.20" cy="260.30" r="6.0" fill="rgb(176,176,176)" fill-opacity="0.7" stroke="#000" stroke-width="1.5"/>
<circle cx="1300.70" cy="195.80" r="6.0" fill="rgb(176,176,176)" fill-opacity="0.7" stroke="#000" stroke-width="1.5"/>
<line x1="1002.70" y1="84.20" x2="1002.70" y2="324.80" stroke="#000" stroke-width="1.7" stroke-linecap="butt"/>
<line x1="994.70" y1="85.05" x2="1002.70" y2="85.05" stroke="#000" stroke-width="1.7" stroke-linecap="butt"/>
<text transform="translate(993.40 93.55) scale(1 1.09)" font-size="20.7" text-anchor="end" stroke="#000" stroke-width="0.2">1.0</text>
<line x1="994.70" y1="164.65" x2="1002.70" y2="164.65" stroke="#000" stroke-width="1.7" stroke-linecap="butt"/>
<text transform="translate(993.40 173.15) scale(1 1.09)" font-size="20.7" text-anchor="end" stroke="#000" stroke-width="0.2">0.5</text>
<line x1="994.70" y1="244.25" x2="1002.70" y2="244.25" stroke="#000" stroke-width="1.7" stroke-linecap="butt"/>
<text transform="translate(993.40 252.75) scale(1 1.09)" font-size="20.7" text-anchor="end" stroke="#000" stroke-width="0.2">0.0</text>
<text transform="translate(993.40 332.45) scale(1 1.09)" font-size="20.7" text-anchor="end" stroke="#000" stroke-width="0.2">-0.5</text>
<line x1="994.70" y1="323.95" x2="1325.00" y2="323.95" stroke="#000" stroke-width="1.7" stroke-linecap="butt"/>
<text transform="translate(950.82 353.40) scale(0.915 1)" font-size="21.6" text-anchor="start" stroke="#000" stroke-width="0.3" letter-spacing="-0.535">αPD-1</text>
<text transform="translate(979.24 379.90) scale(0.9086 1)" font-size="21.6" text-anchor="start" stroke="#000" stroke-width="0.3">RT</text>
<text transform="translate(1022.90 347.80)" font-size="19.5" text-anchor="middle" stroke="#000" stroke-width="0.3">-</text>
<text transform="translate(1022.90 373.40)" font-size="19.5" text-anchor="middle" stroke="#000" stroke-width="0.3">-</text>
<text transform="translate(1053.40 346.70)" font-size="20.2" text-anchor="middle" stroke="#000" stroke-width="0.3">+</text>
<text transform="translate(1052.90 373.40)" font-size="19.5" text-anchor="middle" stroke="#000" stroke-width="0.3">-</text>
<text transform="translate(1082.90 347.80)" font-size="19.5" text-anchor="middle" stroke="#000" stroke-width="0.3">-</text>
<text transform="translate(1083.40 372.30)" font-size="20.2" text-anchor="middle" stroke="#000" stroke-width="0.3">+</text>
<text transform="translate(1113.40 346.70)" font-size="20.2" text-anchor="middle" stroke="#000" stroke-width="0.3">+</text>
<text transform="translate(1113.40 372.30)" font-size="20.2" text-anchor="middle" stroke="#000" stroke-width="0.3">+</text>
<text transform="translate(1162.10 347.80)" font-size="19.5" text-anchor="middle" stroke="#000" stroke-width="0.3">-</text>
<text transform="translate(1162.10 373.40)" font-size="19.5" text-anchor="middle" stroke="#000" stroke-width="0.3">-</text>
<text transform="translate(1192.60 346.70)" font-size="20.2" text-anchor="middle" stroke="#000" stroke-width="0.3">+</text>
<text transform="translate(1192.10 373.40)" font-size="19.5" text-anchor="middle" stroke="#000" stroke-width="0.3">-</text>
<text transform="translate(1222.10 347.80)" font-size="19.5" text-anchor="middle" stroke="#000" stroke-width="0.3">-</text>
<text transform="translate(1222.60 372.30)" font-size="20.2" text-anchor="middle" stroke="#000" stroke-width="0.3">+</text>
<text transform="translate(1252.60 346.70)" font-size="20.2" text-anchor="middle" stroke="#000" stroke-width="0.3">+</text>
<text transform="translate(1252.60 372.30)" font-size="20.2" text-anchor="middle" stroke="#000" stroke-width="0.3">+</text>
<line x1="1020.40" y1="377.00" x2="1114.60" y2="377.00" stroke="#000" stroke-width="1.6" stroke-linecap="butt"/>
<line x1="1161.30" y1="377.00" x2="1255.50" y2="377.00" stroke="#000" stroke-width="1.6" stroke-linecap="butt"/>
<text transform="translate(1021.31 398.60) scale(0.915 1)" font-size="21.6" text-anchor="start" stroke="#000" stroke-width="0.3" letter-spacing="-0.387">Transplant</text>
<text transform="translate(1174.83 398.60) scale(0.915 1)" font-size="21.6" text-anchor="start" stroke="#000" stroke-width="0.3" letter-spacing="-0.421">Primary</text>
<text transform="translate(1309.00 405.85) rotate(-90) scale(0.915 1)" font-size="21.6" text-anchor="start" stroke="#000" stroke-width="0.3" letter-spacing="-0.508">Cell Line</text>
<text transform="translate(1354.23 31.30) scale(1.025 1)" font-size="42.2" text-anchor="start" font-weight="bold">d</text>
<text transform="translate(1407.16 32.50) scale(1.02 1)" font-size="24.05" text-anchor="start" stroke="#000" stroke-width="0.35" letter-spacing="-0.479">Nonsynonymous</text>
<text transform="translate(1444.95 55.20) scale(1.02 1)" font-size="24.05" text-anchor="start" stroke="#000" stroke-width="0.35" letter-spacing="-0.574">mutations</text>
<text transform="translate(1375.70 257.66) rotate(-90) scale(0.9198 1)" font-size="20.7" text-anchor="start" stroke="#000" stroke-width="0.2">Mutations</text>
<rect x="1468.50" y="168.00" width="19.30" height="156.25" fill="#ef7802"/>
<rect x="1500.30" y="232.10" width="18.70" height="92.15" fill="#268b90"/>
<line x1="1478.15" y1="156.15" x2="1478.15" y2="180.55" stroke="#283d83" stroke-width="1.0" stroke-linecap="butt"/>
<line x1="1473.65" y1="156.15" x2="1482.65" y2="156.15" stroke="#283d83" stroke-width="1.0" stroke-linecap="butt"/>
<line x1="1473.65" y1="180.55" x2="1482.65" y2="180.55" stroke="#283d83" stroke-width="1.0" stroke-linecap="butt"/>
<line x1="1509.65" y1="213.15" x2="1509.65" y2="251.65" stroke="#000" stroke-width="1.7" stroke-linecap="butt"/>
<line x1="1505.15" y1="213.15" x2="1514.15" y2="213.15" stroke="#000" stroke-width="1.7" stroke-linecap="butt"/>
<line x1="1505.15" y1="251.65" x2="1514.15" y2="251.65" stroke="#000" stroke-width="1.7" stroke-linecap="butt"/>
<circle cx="1481.90" cy="131.60" r="6.0" fill="rgb(176,176,176)" fill-opacity="0.7" stroke="#000" stroke-width="1.5"/>
<circle cx="1478.10" cy="142.30" r="6.0" fill="rgb(176,176,176)" fill-opacity="0.7" stroke="#000" stroke-width="1.5"/>
<circle cx="1474.20" cy="148.50" r="6.0" fill="rgb(176,176,176)" fill-opacity="0.7" stroke="#000" stroke-width="1.5"/>
<circle cx="1482.10" cy="154.00" r="6.0" fill="rgb(176,176,176)" fill-opacity="0.7" stroke="#000" stroke-width="1.5"/>
<circle cx="1478.10" cy="158.40" r="6.0" fill="rgb(176,176,176)" fill-opacity="0.7" stroke="#000" stroke-width="1.5"/>
<circle cx="1478.10" cy="173.70" r="6.0" fill="rgb(176,176,176)" fill-opacity="0.7" stroke="#000" stroke-width="1.5"/>
<circle cx="1478.10" cy="204.30" r="6.0" fill="rgb(176,176,176)" fill-opacity="0.7" stroke="#000" stroke-width="1.5"/>
<circle cx="1478.10" cy="232.00" r="6.0" fill="rgb(176,176,176)" fill-opacity="0.7" stroke="#000" stroke-width="1.5"/>
<circle cx="1509.60" cy="152.90" r="6.0" fill="rgb(176,176,176)" fill-opacity="0.7" stroke="#000" stroke-width="1.5"/>
<circle cx="1509.60" cy="195.60" r="6.0" fill="rgb(176,176,176)" fill-opacity="0.7" stroke="#000" stroke-width="1.5"/>
<circle cx="1509.60" cy="213.30" r="6.0" fill="rgb(176,176,176)" fill-opacity="0.7" stroke="#000" stroke-width="1.5"/>
<circle cx="1513.60" cy="230.90" r="6.0" fill="rgb(176,176,176)" fill-opacity="0.7" stroke="#000" stroke-width="1.5"/>
<circle cx="1505.70" cy="237.40" r="6.0" fill="rgb(176,176,176)" fill-opacity="0.7" stroke="#000" stroke-width="1.5"/>
<circle cx="1509.60" cy="282.70" r="6.0" fill="rgb(176,176,176)" fill-opacity="0.7" stroke="#000" stroke-width="1.5"/>
<circle cx="1509.60" cy="307.40" r="6.0" fill="rgb(176,176,176)" fill-opacity="0.7" stroke="#000" stroke-width="1.5"/>
<line x1="1458.90" y1="83.40" x2="1458.90" y2="325.10" stroke="#000" stroke-width="1.7" stroke-linecap="butt"/>
<line x1="1450.90" y1="84.25" x2="1458.90" y2="84.25" stroke="#000" stroke-width="1.7" stroke-linecap="butt"/>
<text transform="translate(1449.60 92.75) scale(0.975 1.09)" font-size="20.7" text-anchor="end" stroke="#000" stroke-width="0.2">15000</text>
<line x1="1450.90" y1="164.45" x2="1458.90" y2="164.45" stroke="#000" stroke-width="1.7" stroke-linecap="butt"/>
<text transform="translate(1449.60 172.95) scale(0.975 1.09)" font-size="20.7" text-anchor="end" stroke="#000" stroke-width="0.2">10000</text>
<line x1="1450.90" y1="244.15" x2="1458.90" y2="244.15" stroke="#000" stroke-width="1.7" stroke-linecap="butt"/>
<text transform="translate(1449.60 252.65) scale(0.975 1.09)" font-size="20.7" text-anchor="end" stroke="#000" stroke-width="0.2">5000</text>
<text transform="translate(1449.60 332.75) scale(0.975 1.09)" font-size="20.7" text-anchor="end" stroke="#000" stroke-width="0.2">0</text>
<line x1="1450.90" y1="324.25" x2="1529.80" y2="324.25" stroke="#000" stroke-width="1.7" stroke-linecap="butt"/>
<line x1="1478.10" y1="324.25" x2="1478.10" y2="332.65" stroke="#000" stroke-width="1.7" stroke-linecap="butt"/>
<line x1="1509.60" y1="324.25" x2="1509.60" y2="332.65" stroke="#000" stroke-width="1.7" stroke-linecap="butt"/>
<text transform="translate(1484.30 347.20) rotate(-45) scale(0.96 1)" font-size="21.6" text-anchor="end" stroke="#000" stroke-width="0.2">Rag2-/-</text>
<text transform="translate(1515.80 347.20) rotate(-45) scale(0.96 1)" font-size="21.6" text-anchor="end" stroke="#000" stroke-width="0.2">Rag2+/-</text>
<text transform="translate(1462.23 104.80) scale(0.9374 1)" font-size="21.7" text-anchor="start" font-style="italic" stroke="#000" stroke-width="0.25">*P = 0.01</text>
<line x1="1474.10" y1="108.55" x2="1515.80" y2="108.55" stroke="#000" stroke-width="1.45" stroke-linecap="butt"/>
<text transform="translate(1617.91 31.30) scale(1.026 1)" font-size="42.2" text-anchor="start" font-weight="bold">e</text>
<text transform="translate(1668.66 32.50) scale(1.02 1)" font-size="24.05" text-anchor="start" stroke="#000" stroke-width="0.35" letter-spacing="-0.515">Neoantigen</text>
<text transform="translate(1629.13 55.20) scale(1.02 1)" font-size="24.05" text-anchor="start" stroke="#000" stroke-width="0.35" letter-spacing="-0.626">fraction expressed</text>
<text transform="translate(1638.10 297.27) rotate(-90) scale(0.9254 1)" font-size="20.7" text-anchor="start" stroke="#000" stroke-width="0.2">Fraction expressed</text>
<rect x="1704.10" y="205.40" width="18.80" height="118.85" fill="#ef7802"/>
<rect x="1735.50" y="235.70" width="18.90" height="88.55" fill="#268b90"/>
<line x1="1713.50" y1="199.55" x2="1713.50" y2="211.95" stroke="#283d83" stroke-width="1.0" stroke-linecap="butt"/>
<line x1="1709.00" y1="199.55" x2="1718.00" y2="199.55" stroke="#283d83" stroke-width="1.0" stroke-linecap="butt"/>
<line x1="1709.00" y1="211.95" x2="1718.00" y2="211.95" stroke="#283d83" stroke-width="1.0" stroke-linecap="butt"/>
<line x1="1744.95" y1="219.45" x2="1744.95" y2="252.65" stroke="#000" stroke-width="1.7" stroke-linecap="butt"/>
<line x1="1740.45" y1="219.45" x2="1749.45" y2="219.45" stroke="#000" stroke-width="1.7" stroke-linecap="butt"/>
<line x1="1740.45" y1="252.65" x2="1749.45" y2="252.65" stroke="#000" stroke-width="1.7" stroke-linecap="butt"/>
<circle cx="1713.20" cy="168.10" r="6.0" fill="rgb(176,176,176)" fill-opacity="0.7" stroke="#000" stroke-width="1.5"/>
<circle cx="1713.20" cy="194.00" r="6.0" fill="rgb(176,176,176)" fill-opacity="0.7" stroke="#000" stroke-width="1.5"/>
<circle cx="1713.20" cy="205.80" r="6.0" fill="rgb(176,176,176)" fill-opacity="0.7" stroke="#000" stroke-width="1.5"/>
<circle cx="1710.30" cy="208.80" r="6.0" fill="rgb(176,176,176)" fill-opacity="0.7" stroke="#000" stroke-width="1.5"/>
<circle cx="1716.20" cy="213.20" r="6.0" fill="rgb(176,176,176)" fill-opacity="0.7" stroke="#000" stroke-width="1.5"/>
<circle cx="1709.50" cy="217.70" r="6.0" fill="rgb(176,176,176)" fill-opacity="0.7" stroke="#000" stroke-width="1.5"/>
<circle cx="1717.70" cy="219.60" r="6.0" fill="rgb(176,176,176)" fill-opacity="0.7" stroke="#000" stroke-width="1.5"/>
<circle cx="1744.80" cy="171.00" r="6.0" fill="rgb(176,176,176)" fill-opacity="0.7" stroke="#000" stroke-width="1.5"/>
<circle cx="1744.80" cy="187.00" r="6.0" fill="rgb(176,176,176)" fill-opacity="0.7" stroke="#000" stroke-width="1.5"/>
<circle cx="1744.80" cy="219.60" r="6.0" fill="rgb(176,176,176)" fill-opacity="0.7" stroke="#000" stroke-width="1.5"/>
<circle cx="1748.70" cy="247.40" r="6.0" fill="rgb(176,176,176)" fill-opacity="0.7" stroke="#000" stroke-width="1.5"/>
<circle cx="1741.10" cy="254.10" r="6.0" fill="rgb(176,176,176)" fill-opacity="0.7" stroke="#000" stroke-width="1.5"/>
<circle cx="1744.80" cy="278.20" r="6.0" fill="rgb(176,176,176)" fill-opacity="0.7" stroke="#000" stroke-width="1.5"/>
<circle cx="1744.80" cy="290.70" r="6.0" fill="rgb(176,176,176)" fill-opacity="0.7" stroke="#000" stroke-width="1.5"/>
<line x1="1694.10" y1="83.90" x2="1694.10" y2="325.10" stroke="#000" stroke-width="1.7" stroke-linecap="butt"/>
<line x1="1686.10" y1="84.75" x2="1694.10" y2="84.75" stroke="#000" stroke-width="1.7" stroke-linecap="butt"/>
<text transform="translate(1684.80 93.25) scale(0.975 1.09)" font-size="20.7" text-anchor="end" stroke="#000" stroke-width="0.2">0.3</text>
<line x1="1686.10" y1="164.25" x2="1694.10" y2="164.25" stroke="#000" stroke-width="1.7" stroke-linecap="butt"/>
<text transform="translate(1684.80 172.75) scale(0.975 1.09)" font-size="20.7" text-anchor="end" stroke="#000" stroke-width="0.2">0.2</text>
<line x1="1686.10" y1="244.35" x2="1694.10" y2="244.35" stroke="#000" stroke-width="1.7" stroke-linecap="butt"/>
<text transform="translate(1684.80 252.85) scale(0.975 1.09)" font-size="20.7" text-anchor="end" stroke="#000" stroke-width="0.2">0.1</text>
<text transform="translate(1684.80 332.75) scale(0.975 1.09)" font-size="20.7" text-anchor="end" stroke="#000" stroke-width="0.2">0.0</text>
<line x1="1686.10" y1="324.25" x2="1764.70" y2="324.25" stroke="#000" stroke-width="1.7" stroke-linecap="butt"/>
<line x1="1713.30" y1="324.25" x2="1713.30" y2="332.65" stroke="#000" stroke-width="1.7" stroke-linecap="butt"/>
<line x1="1744.80" y1="324.25" x2="1744.80" y2="332.65" stroke="#000" stroke-width="1.7" stroke-linecap="butt"/>
<text transform="translate(1719.50 347.20) rotate(-45) scale(0.96 1)" font-size="21.6" text-anchor="end" stroke="#000" stroke-width="0.2">Rag2-/-</text>
<text transform="translate(1751.00 347.20) rotate(-45) scale(0.96 1)" font-size="21.6" text-anchor="end" stroke="#000" stroke-width="0.2">Rag2+/-</text>
<text transform="translate(1716.19 121.20) scale(0.9523 1)" font-size="21.7" text-anchor="start" font-style="italic" stroke="#000" stroke-width="0.25">NS</text>
<line x1="1709.30" y1="124.55" x2="1751.00" y2="124.55" stroke="#000" stroke-width="1.45" stroke-linecap="butt"/>
<text transform="translate(1854.00 31.30) scale(1.103 1)" font-size="42.2" text-anchor="start" font-weight="bold">f</text>
<text transform="translate(1906.66 32.70) scale(1.02 1)" font-size="24.05" text-anchor="start" stroke="#000" stroke-width="0.35" letter-spacing="-0.45">Neoantigen</text>
<text transform="translate(1882.23 55.40) scale(1.02 1)" font-size="24.05" text-anchor="start" stroke="#000" stroke-width="0.35" letter-spacing="-1.05">expression level</text>
<text transform="translate(1869.10 263.27) rotate(-90) scale(0.927 1)" font-size="20.7" text-anchor="start" stroke="#000" stroke-width="0.2">Expression</text>
<rect x="1938.70" y="194.00" width="19.10" height="130.35" fill="#ef7802"/>
<rect x="1970.30" y="229.60" width="18.70" height="94.75" fill="#268b90"/>
<line x1="1948.25" y1="184.75" x2="1948.25" y2="204.65" stroke="#283d83" stroke-width="1.0" stroke-linecap="butt"/>
<line x1="1943.75" y1="184.75" x2="1952.75" y2="184.75" stroke="#283d83" stroke-width="1.0" stroke-linecap="butt"/>
<line x1="1943.75" y1="204.65" x2="1952.75" y2="204.65" stroke="#283d83" stroke-width="1.0" stroke-linecap="butt"/>
<line x1="1979.65" y1="219.55" x2="1979.65" y2="241.35" stroke="#000" stroke-width="1.7" stroke-linecap="butt"/>
<line x1="1975.15" y1="219.55" x2="1984.15" y2="219.55" stroke="#000" stroke-width="1.7" stroke-linecap="butt"/>
<line x1="1975.15" y1="241.35" x2="1984.15" y2="241.35" stroke="#000" stroke-width="1.7" stroke-linecap="butt"/>
<circle cx="1948.20" cy="133.60" r="6.0" fill="rgb(176,176,176)" fill-opacity="0.7" stroke="#000" stroke-width="1.5"/>
<circle cx="1948.20" cy="178.50" r="6.0" fill="rgb(176,176,176)" fill-opacity="0.7" stroke="#000" stroke-width="1.5"/>
<circle cx="1946.10" cy="191.80" r="6.0" fill="rgb(176,176,176)" fill-opacity="0.7" stroke="#000" stroke-width="1.5"/>
<circle cx="1950.10" cy="192.80" r="6.0" fill="rgb(176,176,176)" fill-opacity="0.7" stroke="#000" stroke-width="1.5"/>
<circle cx="1944.20" cy="204.80" r="6.0" fill="rgb(176,176,176)" fill-opacity="0.7" stroke="#000" stroke-width="1.5"/>
<circle cx="1952.30" cy="205.20" r="6.0" fill="rgb(176,176,176)" fill-opacity="0.7" stroke="#000" stroke-width="1.5"/>
<circle cx="1948.20" cy="214.60" r="6.0" fill="rgb(176,176,176)" fill-opacity="0.7" stroke="#000" stroke-width="1.5"/>
<circle cx="1948.20" cy="230.60" r="6.0" fill="rgb(176,176,176)" fill-opacity="0.7" stroke="#000" stroke-width="1.5"/>
<circle cx="1979.60" cy="191.50" r="6.0" fill="rgb(176,176,176)" fill-opacity="0.7" stroke="#000" stroke-width="1.5"/>
<circle cx="1979.60" cy="206.10" r="6.0" fill="rgb(176,176,176)" fill-opacity="0.7" stroke="#000" stroke-width="1.5"/>
<circle cx="1979.60" cy="218.20" r="6.0" fill="rgb(176,176,176)" fill-opacity="0.7" stroke="#000" stroke-width="1.5"/>
<circle cx="1984.10" cy="229.90" r="6.0" fill="rgb(176,176,176)" fill-opacity="0.7" stroke="#000" stroke-width="1.5"/>
<circle cx="1976.00" cy="234.30" r="6.0" fill="rgb(176,176,176)" fill-opacity="0.7" stroke="#000" stroke-width="1.5"/>
<circle cx="1983.30" cy="244.00" r="6.0" fill="rgb(176,176,176)" fill-opacity="0.7" stroke="#000" stroke-width="1.5"/>
<circle cx="1979.60" cy="283.70" r="6.0" fill="rgb(176,176,176)" fill-opacity="0.7" stroke="#000" stroke-width="1.5"/>
<line x1="1929.50" y1="83.60" x2="1929.50" y2="325.20" stroke="#000" stroke-width="1.7" stroke-linecap="butt"/>
<line x1="1921.50" y1="84.45" x2="1929.50" y2="84.45" stroke="#000" stroke-width="1.7" stroke-linecap="butt"/>
<text transform="translate(1920.20 92.95) scale(0.975 1.09)" font-size="20.7" text-anchor="end" stroke="#000" stroke-width="0.2">1.0</text>
<line x1="1921.50" y1="180.15" x2="1929.50" y2="180.15" stroke="#000" stroke-width="1.7" stroke-linecap="butt"/>
<text transform="translate(1920.20 188.65) scale(0.975 1.09)" font-size="20.7" text-anchor="end" stroke="#000" stroke-width="0.2">0.5</text>
<line x1="1921.50" y1="276.05" x2="1929.50" y2="276.05" stroke="#000" stroke-width="1.7" stroke-linecap="butt"/>
<text transform="translate(1920.20 284.55) scale(0.975 1.09)" font-size="20.7" text-anchor="end" stroke="#000" stroke-width="0.2">0.0</text>
<line x1="1928.65" y1="324.35" x2="1999.80" y2="324.35" stroke="#000" stroke-width="1.7" stroke-linecap="butt"/>
<line x1="1948.20" y1="324.35" x2="1948.20" y2="332.75" stroke="#000" stroke-width="1.7" stroke-linecap="butt"/>
<line x1="1979.60" y1="324.35" x2="1979.60" y2="332.75" stroke="#000" stroke-width="1.7" stroke-linecap="butt"/>
<text transform="translate(1954.40 347.20) rotate(-45) scale(0.96 1)" font-size="21.6" text-anchor="end" stroke="#000" stroke-width="0.2">Rag2-/-</text>
<text transform="translate(1985.80 347.20) rotate(-45) scale(0.96 1)" font-size="21.6" text-anchor="end" stroke="#000" stroke-width="0.2">Rag2+/-</text>
<text transform="translate(1930.83 109.30) scale(0.9371 1)" font-size="21.7" text-anchor="start" font-style="italic" stroke="#000" stroke-width="0.25">*P = 0.036</text>
<line x1="1947.90" y1="112.60" x2="1989.30" y2="112.60" stroke="#000" stroke-width="1.45" stroke-linecap="butt"/>
</svg>
</body></html>
